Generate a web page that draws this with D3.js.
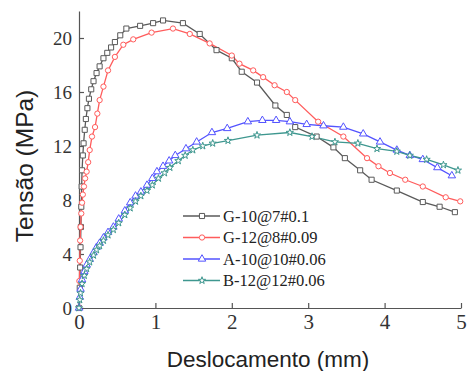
<!DOCTYPE html>
<html>
<head>
<meta charset="utf-8">
<script src="https://cdn.jsdelivr.net/npm/d3@7"></script>
<style>
  body { margin: 0; background: #fff; }
  svg { display: block; }
</style>
</head>
<body>
<svg id="chart" width="468" height="371"></svg>
<script>
// series names shown in the legend
const seriesNames = ['G-10@7#0.1', 'G-12@8#0.09', 'A-10@10#0.06', 'B-12@12#0.06'];

// displacement (mm), stress (MPa)
const g10 = [
  [0, 0], [0.01, 1.5], [0.015, 3], [0.02, 4.5], [0.025, 6], [0.03, 7.5], [0.035, 9],
  [0.04, 10.2], [0.05, 11.3], [0.06, 12.2], [0.075, 13.2], [0.09, 14.0], [0.11, 14.8],
  [0.13, 15.5], [0.16, 16.2], [0.19, 16.8], [0.23, 17.4], [0.27, 17.9], [0.32, 18.5],
  [0.37, 18.9], [0.42, 19.3], [0.47, 19.7], [0.54, 20.2], [0.62, 20.7], [0.8, 20.9],
  [0.97, 21.1], [1.1, 21.3], [1.36, 21.1], [1.58, 20.3], [1.8, 19.1], [2.0, 18.5],
  [2.13, 17.5], [2.33, 16.7], [2.57, 15.0], [2.72, 14.3], [2.83, 13.4], [3.11, 12.7],
  [3.33, 11.9], [3.48, 11.1], [3.68, 10.2], [3.83, 9.5], [4.16, 8.7], [4.5, 7.85],
  [4.72, 7.5], [4.92, 7.1]
];
const g12 = [
  [0, 0], [0.005, 2], [0.01, 3.5], [0.015, 5], [0.02, 6], [0.03, 7], [0.04, 7.8],
  [0.05, 8.4], [0.065, 9.0], [0.08, 9.6], [0.1, 10.1], [0.12, 10.8], [0.14, 11.7],
  [0.17, 12.7], [0.21, 13.4], [0.24, 14.4], [0.27, 15.4], [0.32, 16.4], [0.38, 17.6],
  [0.47, 18.6], [0.58, 19.5], [0.71, 19.9], [0.95, 20.4], [1.23, 20.7], [1.45, 20.3],
  [1.71, 19.6], [2.0, 18.7], [2.1, 18.1], [2.28, 17.6], [2.41, 17.1], [2.56, 16.5],
  [2.72, 16.0], [2.83, 15.4], [3.13, 13.8], [3.46, 12.7], [3.77, 11.1], [3.92, 10.5],
  [4.07, 10.0], [4.27, 9.5], [4.5, 9.0], [4.8, 8.2], [4.99, 7.9]
];
const a10 = [
  [0, 0], [0.01, 0.8], [0.02, 1.4], [0.04, 2.1], [0.07, 2.7], [0.1, 3.2], [0.14, 3.6],
  [0.19, 4.1], [0.23, 4.5], [0.27, 4.8], [0.32, 5.2], [0.38, 5.6], [0.45, 6.0],
  [0.52, 6.6], [0.6, 7.2], [0.67, 7.8], [0.74, 8.3], [0.81, 8.6], [0.89, 9.1],
  [0.96, 9.6], [1.02, 10.1], [1.1, 10.5], [1.18, 10.9], [1.26, 11.3], [1.4, 11.8],
  [1.54, 12.3], [1.74, 13.0], [1.94, 13.3], [2.21, 13.8], [2.4, 13.9], [2.58, 13.9],
  [2.76, 13.8], [2.98, 13.6], [3.2, 13.5], [3.46, 13.4], [3.72, 12.9], [3.94, 12.3],
  [4.16, 11.7], [4.33, 11.3], [4.5, 11.0], [4.69, 10.4], [4.88, 9.8]
];
const b12 = [
  [0, 0], [0.01, 0.6], [0.02, 1.1], [0.04, 1.8], [0.07, 2.4], [0.1, 2.9], [0.14, 3.4],
  [0.19, 3.9], [0.23, 4.3], [0.27, 4.6], [0.32, 5.0], [0.38, 5.4], [0.45, 5.8],
  [0.52, 6.3], [0.6, 6.9], [0.67, 7.4], [0.74, 7.9], [0.81, 8.3], [0.89, 8.7],
  [0.96, 9.1], [1.04, 9.6], [1.12, 10.0], [1.19, 10.4], [1.3, 10.9], [1.39, 11.3],
  [1.49, 11.7], [1.62, 12.0], [1.75, 12.2], [1.95, 12.4], [2.33, 12.8], [2.76, 13.0],
  [3.05, 12.7], [3.35, 12.3], [3.65, 12.2], [3.9, 11.8], [4.16, 11.6], [4.33, 11.3],
  [4.55, 11.0], [4.77, 10.6], [4.96, 10.2]
];

const xTicks = [0, 1, 2, 3, 4, 5];
const yTicks = [0, 4, 8, 12, 16, 20];

const series = [
  { name: seriesNames[0], data: g10, color: '#5a5a5a', symbol: d3.symbolSquare, size: 26 },
  { name: seriesNames[1], data: g12, color: '#ff5c5c', symbol: d3.symbolCircle, size: 22 },
  { name: seriesNames[2], data: a10, color: '#5353ff', symbol: d3.symbolTriangle, size: 24 },
  { name: seriesNames[3], data: b12, color: '#3e978f', symbol: d3.symbolStar, size: 16 }
];

const svg = d3.select('#chart');

const x = d3.scaleLinear().domain([0, 5]).range([79, 461]);
const y = d3.scaleLinear().domain([0, 22]).range([308, 11]);

// axes, ticks pointing inward
const xAxis = svg.append('g')
  .attr('transform', 'translate(0,308)')
  .call(d3.axisBottom(x).tickValues(xTicks).tickFormat(d3.format('d'))
    .tickSizeInner(-5).tickSizeOuter(0).tickPadding(6));
const yAxis = svg.append('g')
  .attr('transform', 'translate(79,0)')
  .call(d3.axisLeft(y).tickValues(yTicks).tickFormat(d3.format('d'))
    .tickSizeInner(-5).tickSizeOuter(0).tickPadding(7));

[xAxis, yAxis].forEach(a => {
  a.select('.domain').attr('stroke', '#555').attr('stroke-width', 1.2);
  a.selectAll('.tick line').attr('stroke', '#555').attr('stroke-width', 1.2);
  a.selectAll('.tick text')
    .attr('fill', '#333')
    .style('font-family', '"Liberation Serif", "DejaVu Serif", serif');
});
xAxis.selectAll('.tick text').style('font-size', '21px');
yAxis.selectAll('.tick text').style('font-size', '19px');

// axis titles
svg.append('text')
  .attr('x', 268)
  .attr('y', 367)
  .attr('text-anchor', 'middle')
  .attr('fill', '#222')
  .style('font-family', '"Liberation Sans", Arial, sans-serif')
  .style('font-size', '22.5px')
  .text('Deslocamento (mm)');

svg.append('text')
  .attr('transform', 'translate(33,166) rotate(-90)')
  .attr('text-anchor', 'middle')
  .attr('fill', '#222')
  .style('font-family', '"Liberation Sans", Arial, sans-serif')
  .style('font-size', '24.5px')
  .text('Tensão (MPa)');

const line = d3.line().x(d => x(d[0])).y(d => y(d[1]));

const plot = svg.append('g');
series.forEach(s => {
  plot.append('path')
    .datum(s.data)
    .attr('d', line)
    .attr('fill', 'none')
    .attr('stroke', s.color)
    .attr('stroke-width', 1.3);
});
series.forEach(s => {
  plot.append('g')
    .selectAll('path')
    .data(s.data)
    .enter()
    .append('path')
    .attr('d', d3.symbol().type(s.symbol).size(s.size))
    .attr('transform', d => 'translate(' + x(d[0]) + ',' + y(d[1]) + ')')
    .attr('fill', '#fff')
    .attr('stroke', s.color)
    .attr('stroke-width', 1);
});

// legend
const legend = svg.append('g');
const rows = legend.selectAll('g')
  .data(series)
  .enter()
  .append('g')
  .attr('transform', (d, i) => 'translate(183,' + (216 + i * 21.5) + ')');
rows.append('line')
  .attr('x1', 0).attr('x2', 37)
  .attr('stroke', d => d.color)
  .attr('stroke-width', 1.5);
rows.append('path')
  .attr('d', d => d3.symbol().type(d.symbol).size(d.size)())
  .attr('transform', 'translate(19,0)')
  .attr('fill', '#fff')
  .attr('stroke', d => d.color);
rows.append('text')
  .attr('x', 40)
  .attr('y', 5.5)
  .attr('fill', '#222')
  .style('font-family', '"Liberation Serif", "DejaVu Serif", serif')
  .style('font-size', '16.5px')
  .text(d => d.name);
</script>
</body>
</html>
